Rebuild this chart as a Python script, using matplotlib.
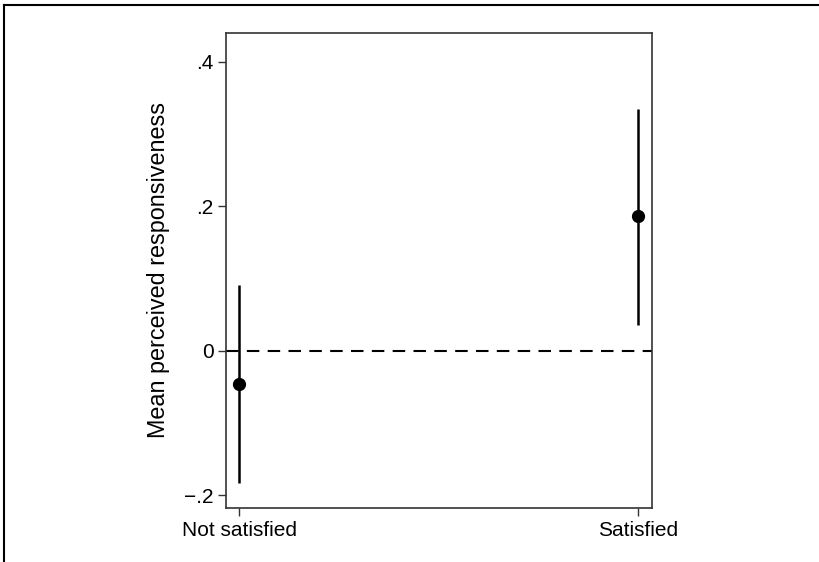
import matplotlib
matplotlib.use("Agg")
import matplotlib.pyplot as plt
from matplotlib.lines import Line2D

categories = ["Not satisfied", "Satisfied"]
means = [-0.046, 0.186]
ci_low = [-0.184, 0.036]
ci_high = [0.091, 0.335]
yticks = [-0.2, 0, 0.2, 0.4]
ytick_labels = ["\u2212.2", "0", ".2", ".4"]

plt.rcParams['font.family'] = ['Liberation Sans', 'DejaVu Sans']

fig = plt.figure(figsize=(8.19, 5.62), dpi=100)
ax = fig.add_axes([226/819, 54/562, 426/819, 475/562])

x = list(range(len(categories)))
ax.vlines(x, ci_low, ci_high, color="black", lw=1.8)
ax.plot(x, means, "o", color="black", markersize=8.5)
ax.axhline(0, color="black", lw=1.5, ls=(0, (6, 4)), zorder=0)

ax.set_xlim(-0.0326, 1.035)
ax.set_ylim(-0.218, 0.440)
ax.set_xticks(x)
ax.set_xticklabels(categories)
ax.set_yticks(yticks)
ax.set_yticklabels(ytick_labels)
ax.tick_params(labelsize=15, length=6, width=1, color="#333333", pad=3)
for s in ax.spines.values():
    s.set_color("#333333")
    s.set_linewidth(1.2)
ax.set_ylabel("Mean perceived responsiveness", fontsize=16.8, labelpad=10)

# outer frame (top and left visible, image cropped)
fig.add_artist(Line2D([4/819, 1], [1 - 5/562, 1 - 5/562], transform=fig.transFigure, color="black", lw=1.5))
fig.add_artist(Line2D([4/819, 4/819], [0, 1 - 5/562], transform=fig.transFigure, color="black", lw=1.5))

fig.savefig("out.png", dpi=100)
